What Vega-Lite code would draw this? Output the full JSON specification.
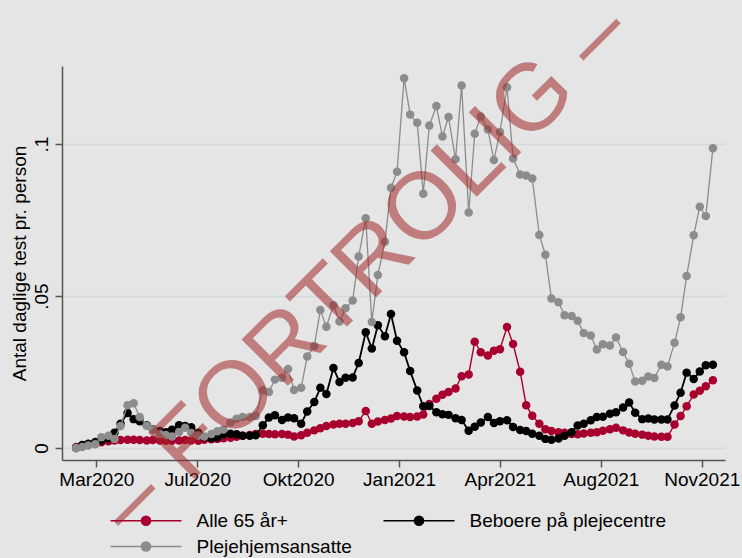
{
  "$schema": "https://vega.github.io/schema/vega-lite/v6.json",
  "width": 663,
  "height": 394,
  "autosize": {"type": "none"},
  "padding": {"left": 62, "top": 66, "right": 17, "bottom": 98},
  "background": "#e5e5e5",
  "config": {
    "font": "Liberation Sans",
    "view": {"stroke": null},
    "axis": {
      "labelFont": "Liberation Sans",
      "titleFont": "Liberation Sans",
      "labelFontSize": 19,
      "titleFontSize": 19,
      "titleFontWeight": "normal",
      "labelColor": "#000000",
      "titleColor": "#000000",
      "domainColor": "#555555",
      "tickColor": "#555555",
      "domainWidth": 1.5,
      "tickWidth": 1.5,
      "tickSize": 7
    },
    "legend": {
      "labelFont": "Liberation Sans",
      "labelFontSize": 19,
      "labelColor": "#000000",
      "labelLimit": 400
    }
  },
  "datasets": {
    "alle65": [
      {"dato": "2020-03-06", "v": 0.0003}, {"dato": "2020-03-12", "v": 0.0008}, {"dato": "2020-03-18", "v": 0.0012}, {"dato": "2020-03-25", "v": 0.0016},
      {"dato": "2020-03-31", "v": 0.0019}, {"dato": "2020-04-07", "v": 0.0022}, {"dato": "2020-04-13", "v": 0.0025}, {"dato": "2020-04-19", "v": 0.0026},
      {"dato": "2020-04-26", "v": 0.0027}, {"dato": "2020-05-02", "v": 0.0027}, {"dato": "2020-05-08", "v": 0.0026}, {"dato": "2020-05-15", "v": 0.0025},
      {"dato": "2020-05-21", "v": 0.0026}, {"dato": "2020-05-28", "v": 0.0025}, {"dato": "2020-06-03", "v": 0.0024}, {"dato": "2020-06-09", "v": 0.0024},
      {"dato": "2020-06-16", "v": 0.0025}, {"dato": "2020-06-22", "v": 0.0026}, {"dato": "2020-06-28", "v": 0.0025}, {"dato": "2020-07-05", "v": 0.0024},
      {"dato": "2020-07-11", "v": 0.0027}, {"dato": "2020-07-18", "v": 0.0029}, {"dato": "2020-07-24", "v": 0.0030}, {"dato": "2020-07-30", "v": 0.0032},
      {"dato": "2020-08-06", "v": 0.0034}, {"dato": "2020-08-12", "v": 0.0037}, {"dato": "2020-08-18", "v": 0.0040}, {"dato": "2020-08-25", "v": 0.0043},
      {"dato": "2020-08-31", "v": 0.0046}, {"dato": "2020-09-07", "v": 0.0047}, {"dato": "2020-09-13", "v": 0.0046}, {"dato": "2020-09-19", "v": 0.0045},
      {"dato": "2020-09-26", "v": 0.0046}, {"dato": "2020-10-02", "v": 0.0044}, {"dato": "2020-10-08", "v": 0.0038}, {"dato": "2020-10-15", "v": 0.0042},
      {"dato": "2020-10-21", "v": 0.0050}, {"dato": "2020-10-28", "v": 0.0058}, {"dato": "2020-11-03", "v": 0.0065}, {"dato": "2020-11-09", "v": 0.0072},
      {"dato": "2020-11-16", "v": 0.0077}, {"dato": "2020-11-22", "v": 0.0080}, {"dato": "2020-11-28", "v": 0.0080}, {"dato": "2020-12-05", "v": 0.0082},
      {"dato": "2020-12-11", "v": 0.0088}, {"dato": "2020-12-18", "v": 0.0122}, {"dato": "2020-12-24", "v": 0.0080}, {"dato": "2020-12-30", "v": 0.0087},
      {"dato": "2021-01-06", "v": 0.0092}, {"dato": "2021-01-12", "v": 0.0097}, {"dato": "2021-01-18", "v": 0.0105}, {"dato": "2021-01-25", "v": 0.0104},
      {"dato": "2021-01-31", "v": 0.0102}, {"dato": "2021-02-07", "v": 0.0104}, {"dato": "2021-02-13", "v": 0.0110}, {"dato": "2021-02-19", "v": 0.0145},
      {"dato": "2021-02-26", "v": 0.0162}, {"dato": "2021-03-04", "v": 0.0175}, {"dato": "2021-03-10", "v": 0.0184}, {"dato": "2021-03-17", "v": 0.0196},
      {"dato": "2021-03-23", "v": 0.0236}, {"dato": "2021-03-30", "v": 0.0242}, {"dato": "2021-04-05", "v": 0.0350}, {"dato": "2021-04-11", "v": 0.0315},
      {"dato": "2021-04-18", "v": 0.0304}, {"dato": "2021-04-24", "v": 0.0320}, {"dato": "2021-04-30", "v": 0.0325}, {"dato": "2021-05-07", "v": 0.0398},
      {"dato": "2021-05-13", "v": 0.0342}, {"dato": "2021-05-20", "v": 0.0251}, {"dato": "2021-05-26", "v": 0.0141}, {"dato": "2021-06-01", "v": 0.0106},
      {"dato": "2021-06-08", "v": 0.0080}, {"dato": "2021-06-14", "v": 0.0062}, {"dato": "2021-06-20", "v": 0.0056}, {"dato": "2021-06-27", "v": 0.0052},
      {"dato": "2021-07-03", "v": 0.0050}, {"dato": "2021-07-10", "v": 0.0046}, {"dato": "2021-07-16", "v": 0.0045}, {"dato": "2021-07-22", "v": 0.0048},
      {"dato": "2021-07-29", "v": 0.0050}, {"dato": "2021-08-04", "v": 0.0052}, {"dato": "2021-08-10", "v": 0.0057}, {"dato": "2021-08-17", "v": 0.0062},
      {"dato": "2021-08-23", "v": 0.0067}, {"dato": "2021-08-30", "v": 0.0058}, {"dato": "2021-09-05", "v": 0.0051}, {"dato": "2021-09-11", "v": 0.0047},
      {"dato": "2021-09-18", "v": 0.0044}, {"dato": "2021-09-24", "v": 0.0040}, {"dato": "2021-09-30", "v": 0.0038}, {"dato": "2021-10-07", "v": 0.0037},
      {"dato": "2021-10-13", "v": 0.0037}, {"dato": "2021-10-20", "v": 0.0077}, {"dato": "2021-10-26", "v": 0.0105}, {"dato": "2021-11-01", "v": 0.0137},
      {"dato": "2021-11-08", "v": 0.0176}, {"dato": "2021-11-14", "v": 0.0188}, {"dato": "2021-11-20", "v": 0.0203}, {"dato": "2021-11-27", "v": 0.0223}
    ],
    "beboere": [
      {"dato": "2020-03-06", "v": 0.0000}, {"dato": "2020-03-12", "v": 0.0010}, {"dato": "2020-03-18", "v": 0.0014}, {"dato": "2020-03-25", "v": 0.0020},
      {"dato": "2020-03-31", "v": 0.0025}, {"dato": "2020-04-07", "v": 0.0032}, {"dato": "2020-04-13", "v": 0.0050}, {"dato": "2020-04-19", "v": 0.0080},
      {"dato": "2020-04-26", "v": 0.0115}, {"dato": "2020-05-02", "v": 0.0095}, {"dato": "2020-05-08", "v": 0.0088}, {"dato": "2020-05-15", "v": 0.0075},
      {"dato": "2020-05-21", "v": 0.0062}, {"dato": "2020-05-28", "v": 0.0056}, {"dato": "2020-06-03", "v": 0.0052}, {"dato": "2020-06-09", "v": 0.0060},
      {"dato": "2020-06-16", "v": 0.0075}, {"dato": "2020-06-22", "v": 0.0072}, {"dato": "2020-06-28", "v": 0.0068}, {"dato": "2020-07-05", "v": 0.0050},
      {"dato": "2020-07-11", "v": 0.0035}, {"dato": "2020-07-18", "v": 0.0032}, {"dato": "2020-07-24", "v": 0.0035}, {"dato": "2020-07-30", "v": 0.0045},
      {"dato": "2020-08-06", "v": 0.0047}, {"dato": "2020-08-12", "v": 0.0045}, {"dato": "2020-08-18", "v": 0.0040}, {"dato": "2020-08-25", "v": 0.0040},
      {"dato": "2020-08-31", "v": 0.0042}, {"dato": "2020-09-07", "v": 0.0075}, {"dato": "2020-09-13", "v": 0.0100}, {"dato": "2020-09-19", "v": 0.0108},
      {"dato": "2020-09-26", "v": 0.0092}, {"dato": "2020-10-02", "v": 0.0100}, {"dato": "2020-10-08", "v": 0.0098}, {"dato": "2020-10-15", "v": 0.0080},
      {"dato": "2020-10-21", "v": 0.0120}, {"dato": "2020-10-28", "v": 0.0151}, {"dato": "2020-11-03", "v": 0.0198}, {"dato": "2020-11-09", "v": 0.0178},
      {"dato": "2020-11-16", "v": 0.0263}, {"dato": "2020-11-22", "v": 0.0217}, {"dato": "2020-11-28", "v": 0.0231}, {"dato": "2020-12-05", "v": 0.0232},
      {"dato": "2020-12-11", "v": 0.0280}, {"dato": "2020-12-18", "v": 0.0381}, {"dato": "2020-12-24", "v": 0.0327}, {"dato": "2020-12-30", "v": 0.0404},
      {"dato": "2021-01-06", "v": 0.0368}, {"dato": "2021-01-12", "v": 0.0441}, {"dato": "2021-01-18", "v": 0.0353}, {"dato": "2021-01-25", "v": 0.0315},
      {"dato": "2021-01-31", "v": 0.0253}, {"dato": "2021-02-07", "v": 0.0189}, {"dato": "2021-02-13", "v": 0.0137}, {"dato": "2021-02-19", "v": 0.0138},
      {"dato": "2021-02-26", "v": 0.0118}, {"dato": "2021-03-04", "v": 0.0111}, {"dato": "2021-03-10", "v": 0.0109}, {"dato": "2021-03-17", "v": 0.0098},
      {"dato": "2021-03-23", "v": 0.0092}, {"dato": "2021-03-30", "v": 0.0057}, {"dato": "2021-04-05", "v": 0.0070}, {"dato": "2021-04-11", "v": 0.0084},
      {"dato": "2021-04-18", "v": 0.0102}, {"dato": "2021-04-24", "v": 0.0082}, {"dato": "2021-04-30", "v": 0.0088}, {"dato": "2021-05-07", "v": 0.0091},
      {"dato": "2021-05-13", "v": 0.0069}, {"dato": "2021-05-20", "v": 0.0059}, {"dato": "2021-05-26", "v": 0.0056}, {"dato": "2021-06-01", "v": 0.0047},
      {"dato": "2021-06-08", "v": 0.0040}, {"dato": "2021-06-14", "v": 0.0030}, {"dato": "2021-06-20", "v": 0.0027}, {"dato": "2021-06-27", "v": 0.0031},
      {"dato": "2021-07-03", "v": 0.0040}, {"dato": "2021-07-10", "v": 0.0052}, {"dato": "2021-07-16", "v": 0.0074}, {"dato": "2021-07-22", "v": 0.0080},
      {"dato": "2021-07-29", "v": 0.0091}, {"dato": "2021-08-04", "v": 0.0102}, {"dato": "2021-08-10", "v": 0.0103}, {"dato": "2021-08-17", "v": 0.0113},
      {"dato": "2021-08-23", "v": 0.0118}, {"dato": "2021-08-30", "v": 0.0133}, {"dato": "2021-09-05", "v": 0.0150}, {"dato": "2021-09-11", "v": 0.0116},
      {"dato": "2021-09-18", "v": 0.0095}, {"dato": "2021-09-24", "v": 0.0097}, {"dato": "2021-09-30", "v": 0.0094}, {"dato": "2021-10-07", "v": 0.0094},
      {"dato": "2021-10-13", "v": 0.0094}, {"dato": "2021-10-20", "v": 0.0140}, {"dato": "2021-10-26", "v": 0.0182}, {"dato": "2021-11-01", "v": 0.0248},
      {"dato": "2021-11-08", "v": 0.0227}, {"dato": "2021-11-14", "v": 0.0252}, {"dato": "2021-11-20", "v": 0.0272}, {"dato": "2021-11-27", "v": 0.0274}
    ],
    "ansatte": [
      {"dato": "2020-03-06", "v": 0.0000}, {"dato": "2020-03-12", "v": 0.0003}, {"dato": "2020-03-18", "v": 0.0008}, {"dato": "2020-03-25", "v": 0.0012},
      {"dato": "2020-03-31", "v": 0.0035}, {"dato": "2020-04-07", "v": 0.0040}, {"dato": "2020-04-13", "v": 0.0030}, {"dato": "2020-04-19", "v": 0.0072},
      {"dato": "2020-04-26", "v": 0.0141}, {"dato": "2020-05-02", "v": 0.0147}, {"dato": "2020-05-08", "v": 0.0102}, {"dato": "2020-05-15", "v": 0.0073},
      {"dato": "2020-05-21", "v": 0.0061}, {"dato": "2020-05-28", "v": 0.0046}, {"dato": "2020-06-03", "v": 0.0043}, {"dato": "2020-06-09", "v": 0.0038},
      {"dato": "2020-06-16", "v": 0.0053}, {"dato": "2020-06-22", "v": 0.0067}, {"dato": "2020-06-28", "v": 0.0049}, {"dato": "2020-07-05", "v": 0.0041},
      {"dato": "2020-07-11", "v": 0.0038}, {"dato": "2020-07-18", "v": 0.0046}, {"dato": "2020-07-24", "v": 0.0055}, {"dato": "2020-07-30", "v": 0.0061},
      {"dato": "2020-08-06", "v": 0.0084}, {"dato": "2020-08-12", "v": 0.0096}, {"dato": "2020-08-18", "v": 0.0102}, {"dato": "2020-08-25", "v": 0.0102},
      {"dato": "2020-08-31", "v": 0.0105}, {"dato": "2020-09-07", "v": 0.0190}, {"dato": "2020-09-13", "v": 0.0184}, {"dato": "2020-09-19", "v": 0.0225},
      {"dato": "2020-09-26", "v": 0.0231}, {"dato": "2020-10-02", "v": 0.0260}, {"dato": "2020-10-08", "v": 0.0191}, {"dato": "2020-10-15", "v": 0.0198},
      {"dato": "2020-10-21", "v": 0.0301}, {"dato": "2020-10-28", "v": 0.0336}, {"dato": "2020-11-03", "v": 0.0454}, {"dato": "2020-11-09", "v": 0.0399},
      {"dato": "2020-11-16", "v": 0.0470}, {"dato": "2020-11-22", "v": 0.0416}, {"dato": "2020-11-28", "v": 0.0460}, {"dato": "2020-12-05", "v": 0.0485},
      {"dato": "2020-12-11", "v": 0.0630}, {"dato": "2020-12-18", "v": 0.0756}, {"dato": "2020-12-24", "v": 0.0415}, {"dato": "2020-12-30", "v": 0.0569},
      {"dato": "2021-01-06", "v": 0.0679}, {"dato": "2021-01-12", "v": 0.0856}, {"dato": "2021-01-18", "v": 0.0909}, {"dato": "2021-01-25", "v": 0.1217},
      {"dato": "2021-01-31", "v": 0.1097}, {"dato": "2021-02-07", "v": 0.1070}, {"dato": "2021-02-13", "v": 0.0837}, {"dato": "2021-02-19", "v": 0.1061},
      {"dato": "2021-02-26", "v": 0.1125}, {"dato": "2021-03-04", "v": 0.1025}, {"dato": "2021-03-10", "v": 0.1089}, {"dato": "2021-03-17", "v": 0.0950},
      {"dato": "2021-03-23", "v": 0.1193}, {"dato": "2021-03-30", "v": 0.0775}, {"dato": "2021-04-05", "v": 0.1034}, {"dato": "2021-04-11", "v": 0.1091},
      {"dato": "2021-04-18", "v": 0.1048}, {"dato": "2021-04-24", "v": 0.0948}, {"dato": "2021-04-30", "v": 0.1040}, {"dato": "2021-05-07", "v": 0.1187},
      {"dato": "2021-05-13", "v": 0.0953}, {"dato": "2021-05-20", "v": 0.0900}, {"dato": "2021-05-26", "v": 0.0897}, {"dato": "2021-06-01", "v": 0.0887},
      {"dato": "2021-06-08", "v": 0.0701}, {"dato": "2021-06-14", "v": 0.0636}, {"dato": "2021-06-20", "v": 0.0492}, {"dato": "2021-06-27", "v": 0.0480},
      {"dato": "2021-07-03", "v": 0.0437}, {"dato": "2021-07-10", "v": 0.0434}, {"dato": "2021-07-16", "v": 0.0419}, {"dato": "2021-07-22", "v": 0.0378},
      {"dato": "2021-07-29", "v": 0.0370}, {"dato": "2021-08-04", "v": 0.0324}, {"dato": "2021-08-10", "v": 0.0341}, {"dato": "2021-08-17", "v": 0.0337},
      {"dato": "2021-08-23", "v": 0.0364}, {"dato": "2021-08-30", "v": 0.0316}, {"dato": "2021-09-05", "v": 0.0277}, {"dato": "2021-09-11", "v": 0.0219},
      {"dato": "2021-09-18", "v": 0.0221}, {"dato": "2021-09-24", "v": 0.0235}, {"dato": "2021-09-30", "v": 0.0230}, {"dato": "2021-10-07", "v": 0.0274},
      {"dato": "2021-10-13", "v": 0.0268}, {"dato": "2021-10-20", "v": 0.0346}, {"dato": "2021-10-26", "v": 0.0430}, {"dato": "2021-11-01", "v": 0.0566},
      {"dato": "2021-11-08", "v": 0.0700}, {"dato": "2021-11-14", "v": 0.0794}, {"dato": "2021-11-20", "v": 0.0763}, {"dato": "2021-11-27", "v": 0.0986}
    ],
    "vandmaerke": [
      {"tekst": "– FORTROLIG –"}
    ]
  },
  "layer": [
    {
      "encoding": {
        "x": {
          "field": "dato",
          "type": "temporal",
          "scale": {
            "type": "utc",
            "domain": [
              {"year": 2020, "month": 2, "date": 21, "utc": true},
              {"year": 2021, "month": 12, "date": 9, "utc": true}
            ]
          },
          "axis": {
            "title": null,
            "grid": false,
            "values": [
              {"year": 2020, "month": 3, "date": 26, "utc": true},
              {"year": 2020, "month": 7, "date": 4, "utc": true},
              {"year": 2020, "month": 10, "date": 12, "utc": true},
              {"year": 2021, "month": 1, "date": 20, "utc": true},
              {"year": 2021, "month": 4, "date": 30, "utc": true},
              {"year": 2021, "month": 8, "date": 8, "utc": true},
              {"year": 2021, "month": 11, "date": 16, "utc": true}
            ],
            "labelExpr": "replace(utcFormat(datum.value, '%b%Y'), 'Oct', 'Okt')",
            "labelPadding": 3,
            "labelFlush": false,
            "labelOverlap": false
          }
        },
        "y": {
          "field": "v",
          "type": "quantitative",
          "scale": {"domain": [-0.00395, 0.1257], "nice": false, "zero": false},
          "axis": {
            "title": "Antal daglige test pr. person",
            "values": [0, 0.05, 0.1],
            "labelExpr": "datum.value == 0 ? '0' : replace(format(datum.value, '.2~f'), '0.', '.')",
            "labelAngle": 270,
            "labelAlign": "center",
            "labelBaseline": "alphabetic",
            "labelPadding": 8,
            "grid": true,
            "gridColor": "#d3dadf",
            "gridWidth": 1.5,
            "titlePadding": 3
          }
        }
      },
      "layer": [
        {
          "data": {"name": "alle65"},
          "mark": {"type": "line", "strokeWidth": 1.4, "point": {"filled": true, "size": 72, "opacity": 1}},
          "encoding": {
            "color": {
              "datum": "Alle 65 år+",
              "type": "nominal",
              "scale": {
                "domain": ["Alle 65 år+", "Beboere på plejecentre", "Plejehjemsansatte"],
                "range": ["#a8002e", "#000000", "#8c8c8c"]
              },
              "legend": {
                "title": null,
                "orient": "none",
                "legendX": 74.5,
                "legendY": 445,
                "direction": "horizontal",
                "columns": 2,
                "columnPadding": 28,
                "rowPadding": 6,
                "padding": 0,
                "symbolType": "M-7.1,0L7.1,0M-0.92,0A0.92,0.92,0,1,1,0.92,0A0.92,0.92,0,1,1,-0.92,0Z",
                "symbolSize": 100,
                "symbolStrokeWidth": 1.5,
                "labelOffset": 41,
                "encode": {
                  "symbols": {
                    "update": {
                      "fill": {"scale": "color", "field": "value"},
                      "stroke": {"scale": "color", "field": "value"},
                      "opacity": {"value": 1}
                    }
                  }
                }
              }
            }
          }
        },
        {
          "data": {"name": "beboere"},
          "mark": {"type": "line", "strokeWidth": 1.8, "point": {"filled": true, "size": 72, "opacity": 1}},
          "encoding": {"color": {"datum": "Beboere på plejecentre", "type": "nominal"}}
        },
        {
          "data": {"name": "ansatte"},
          "mark": {"type": "line", "strokeWidth": 1.3, "point": {"filled": true, "size": 72, "opacity": 1}},
          "encoding": {"color": {"datum": "Plejehjemsansatte", "type": "nominal"}}
        }
      ]
    },
    {
      "data": {"name": "vandmaerke"},
      "mark": {
        "type": "text",
        "font": "Liberation Sans",
        "fontSize": 95,
        "angle": 315,
        "align": "center",
        "baseline": "middle",
        "fill": "#a02828",
        "fillOpacity": 0.55
      },
      "encoding": {
        "x": {"datum": 1608076800000, "type": "temporal"},
        "y": {"datum": 0.059, "type": "quantitative"},
        "text": {"field": "tekst", "type": "nominal"}
      }
    }
  ]
}
